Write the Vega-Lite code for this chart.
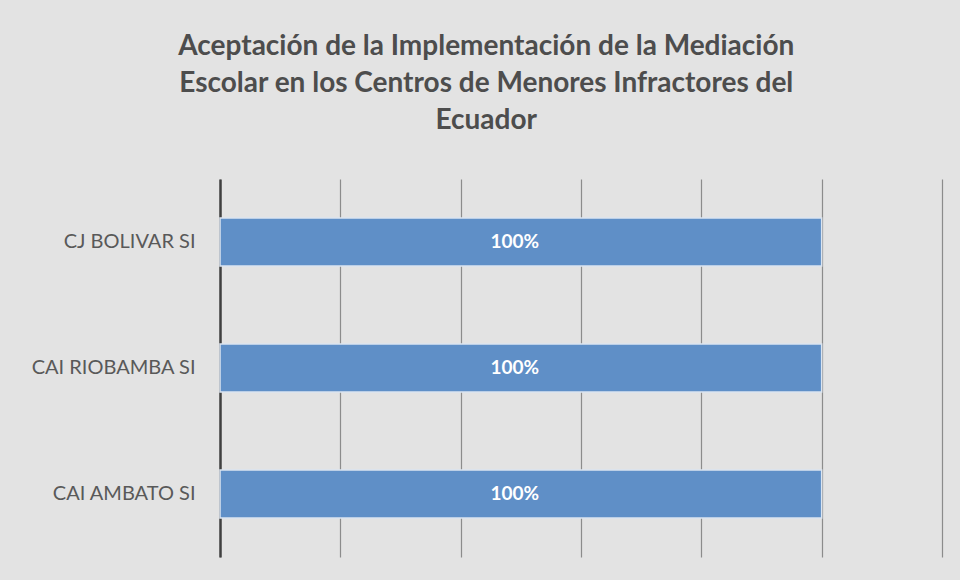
{
  "$schema": "https://vega.github.io/schema/vega-lite/v6.json",
  "autosize": "none",
  "width": 722,
  "height": 378,
  "padding": {"left": 220, "top": 179, "right": 18, "bottom": 23},
  "background": "#e3e3e3",
  "title": {
    "text": ["Aceptación de la Implementación de la Mediación", "Escolar en los Centros de Menores Infractores del", "Ecuador"],
    "font": "Lato",
    "fontSize": 28,
    "fontWeight": "bold",
    "color": "#4d4d4d",
    "lineHeight": 37,
    "anchor": "middle",
    "frame": "bounds",
    "offset": 44
  },
  "data": {
    "values": [
      {"centro": "CJ BOLIVAR SI", "valor": 1.0},
      {"centro": "CAI RIOBAMBA SI", "valor": 1.0},
      {"centro": "CAI AMBATO SI", "valor": 1.0}
    ]
  },
  "encoding": {
    "y": {
      "field": "centro",
      "type": "nominal",
      "sort": null,
      "title": null,
      "scale": {"paddingInner": 0.62, "paddingOuter": 0.31},
      "axis": {
        "domainColor": "#404040",
        "domainWidth": 2.5,
        "ticks": false,
        "labelPadding": 25,
        "labelFont": "Lato",
        "labelFontSize": 20,
        "labelColor": "#595959",
        "grid": false
      }
    }
  },
  "layer": [
    {
      "mark": {"type": "bar", "color": "#5f8fc7", "stroke": "#dbe5f1", "strokeWidth": 1.5},
      "encoding": {
        "x": {
          "field": "valor",
          "type": "quantitative",
          "title": null,
          "scale": {"domain": [0, 1.2], "nice": false},
          "axis": {
            "values": [0, 0.2, 0.4, 0.6, 0.8, 1.0, 1.2],
            "labels": false,
            "ticks": false,
            "domain": false,
            "grid": true,
            "gridColor": "#8c8c8c",
            "gridWidth": 1.2
          }
        }
      }
    },
    {
      "mark": {"type": "text", "color": "white", "font": "Lato", "fontSize": 19, "fontWeight": "bold", "align": "center", "baseline": "middle"},
      "encoding": {
        "x": {"datum": 0.49, "type": "quantitative"},
        "text": {"field": "valor", "type": "quantitative", "format": ".0%"}
      }
    }
  ],
  "config": {"view": {"stroke": null}}
}
